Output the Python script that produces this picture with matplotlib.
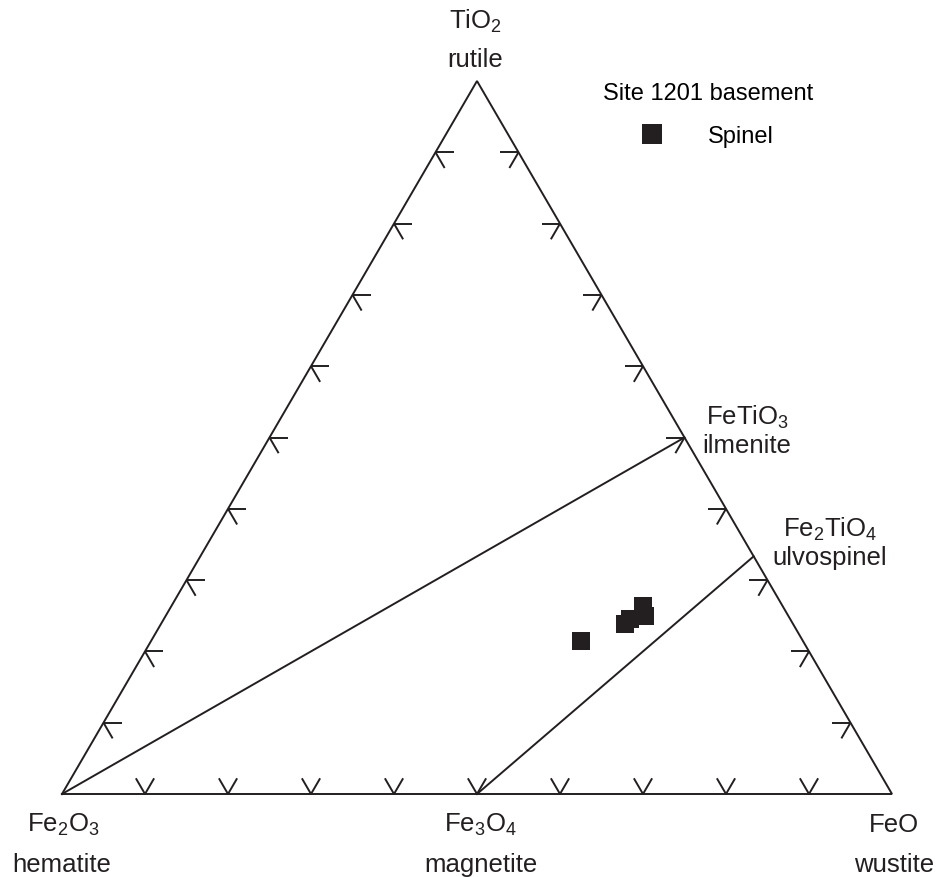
import numpy as np
import matplotlib
matplotlib.use("Agg")
import matplotlib.pyplot as plt
from matplotlib.collections import LineCollection
from matplotlib.lines import Line2D

plt.rcParams['font.family'] = ['Liberation Sans', 'DejaVu Sans']
plt.rcParams['mathtext.fontset'] = 'custom'
plt.rcParams['mathtext.rm'] = 'Liberation Sans'
plt.rcParams['mathtext.it'] = 'Liberation Sans:italic'
plt.rcParams['mathtext.bf'] = 'Liberation Sans:bold'

# ---- data (molar fractions) ----
spinel_tio2 = [0.215, 0.239, 0.246, 0.264, 0.249]
spinel_feo = [0.518, 0.559, 0.561, 0.568, 0.578]
spinel_fe2o3 = [1 - a - b for a, b in zip(spinel_tio2, spinel_feo)]

tick_fracs = [0.1, 0.2, 0.3, 0.4, 0.5, 0.6, 0.7, 0.8, 0.9]

# mineral compositions (TiO2, FeO, Fe2O3)
hematite = (0.0, 0.0, 1.0)
magnetite = (0.0, 0.5, 0.5)
wustite = (0.0, 1.0, 0.0)
rutile = (1.0, 0.0, 0.0)
ilmenite = (0.5, 0.5, 0.0)
ulvospinel = (1/3, 2/3, 0.0)
tie_lines = [(hematite, ilmenite), (magnetite, ulvospinel)]

legend_title = "Site 1201 basement"
series_label = "Spinel"

INK = '#231f20'
H = np.sqrt(3) / 2


def cart(tio2, feo):
    tio2 = np.asarray(tio2, float)
    feo = np.asarray(feo, float)
    return feo + tio2 / 2, tio2 * H


W, HT = 936, 878
fig = plt.figure(figsize=(W / 100, HT / 100), dpi=100)
ax = fig.add_axes([62 / W, (HT - 795) / HT, 830 / W, 713 / HT])
ax.set_xlim(0, 1)
ax.set_ylim(0, H)
ax.axis('off')

lw = 1.4
# triangle outline
corners = [hematite, wustite, rutile, hematite]
tx, ty = cart([c[0] for c in corners], [c[1] for c in corners])
ax.plot(tx, ty, color=INK, lw=lw, clip_on=False, solid_joinstyle='miter')

# tie lines
for a, b in tie_lines:
    x, y = cart([a[0], b[0]], [a[1], b[1]])
    ax.plot(x, y, color=INK, lw=lw, clip_on=False)

# ticks
L = 0.022
segs = []
d_h = np.array([1.0, 0.0])
d_dr = np.array([0.5, -H])
d_ul = np.array([-0.5, H])
d_ur = np.array([0.5, H])
for f in tick_fracs:
    # bottom edge (TiO2 = 0), FeO = f
    p = np.array(cart(0.0, f))
    segs += [[p, p + L * d_ul], [p, p + L * d_ur]]
    # left edge (FeO = 0), TiO2 = f
    p = np.array(cart(f, 0.0))
    segs += [[p, p + L * d_h], [p, p + L * d_dr]]
    # right edge (Fe2O3 = 0), TiO2 = f
    p = np.array(cart(f, 1 - f))
    segs += [[p, p - L * d_h], [p, p - L * np.array([0.5, H])]]
ax.add_collection(LineCollection(segs, colors=INK, linewidths=lw, clip_on=False))

# data points
px, py = cart(spinel_tio2, spinel_feo)
ax.plot(px, py, ls='none', marker='s', ms=13.5, mew=0, color=INK, clip_on=False)

# legend
h = Line2D([], [], ls='none', marker='s', ms=14, mew=0, color=INK)
fig.legend(handles=[h], labels=[series_label], title=legend_title,
           frameon=False, loc='upper center',
           bbox_to_anchor=(708 / W, 1 - 83 / HT), bbox_transform=fig.transFigure,
           borderpad=0, borderaxespad=0, handlelength=0.8, handletextpad=1.97,
           labelspacing=0.9, fontsize=17, title_fontsize=17)

# vertex labels
FS = 18.5
labels = [
    (r'TiO$_2$', 475.5, 29), ('rutile', 475.5, 67),
    (r'Fe$_2$O$_3$', 63.5, 832), ('hematite', 62, 872),
    (r'Fe$_3$O$_4$', 480, 832), ('magnetite', 481, 872),
    ('FeO', 894, 832), ('wustite', 894, 872),
    (r'FeTiO$_3$', 748, 425), ('ilmenite', 747, 453),
    (r'Fe$_2$TiO$_4$', 830, 537), ('ulvospinel', 830, 565),
]
for s, x, y in labels:
    fig.text(x / W, 1 - y / HT, s, ha='center', va='baseline', fontsize=FS, color=INK)

fig.savefig('out.png', dpi=100)
